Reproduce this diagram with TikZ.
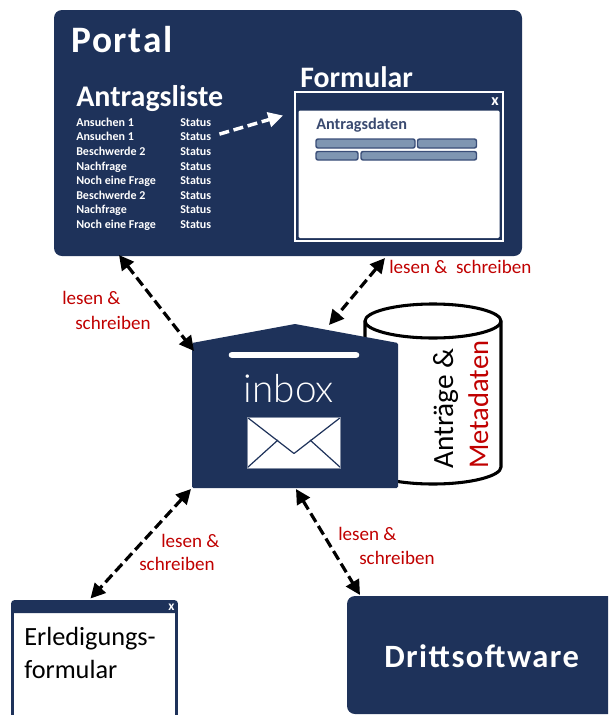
\documentclass[tikz,border=0pt]{standalone}
\usepackage{fontspec}
\setmainfont{Carlito}
\newfontfamily\inboxfont{Lato Light}
\newfontfamily\spacedfont[LetterSpace=4.5,BoldFont={Carlito Bold}]{Carlito Bold}
\usetikzlibrary{arrows.meta,fit,calc}
\definecolor{navy}{RGB}{30,50,90}
\definecolor{redtxt}{RGB}{192,0,0}
\definecolor{barfill}{RGB}{127,150,178}
\definecolor{barline}{RGB}{58,78,120}
\definecolor{formtxt}{RGB}{58,74,112}
\tikzset{
  x=0.75pt,y=-0.75pt,
  panel/.style={fit={#1},inner sep=0pt,outer sep=0pt,fill=navy,rounded corners=6pt},
  bound/.style={fit={#1},inner sep=0pt,outer sep=0pt},
  fbar/.style={fill=barfill,draw=barline,line width=1.1pt,rounded corners=1.6pt},
  dbl/.style={line width=2.4pt,dash pattern=on 7.5pt off 3.5pt,black,
     {Triangle[length=11pt,width=11pt]}-{Triangle[length=11pt,width=11pt]}},
  rlabel/.style={text=redtxt,font=\fontsize{14.3pt}{16pt}\selectfont,anchor=base west,inner sep=0pt},
  wlabel/.style={text=white,font=\fontsize{#1}{#1}\selectfont\bfseries,anchor=base west,inner sep=0pt},
  slabel/.style={text=white,font=\spacedfont\fontsize{#1}{#1}\selectfont,anchor=base west,inner sep=0pt},
  rowl/.style={text=white,font=\fontsize{9pt}{10pt}\selectfont\bfseries,anchor=base west,inner sep=0pt},
}
\begin{document}
\begin{tikzpicture}
\useasboundingbox (0,0) rectangle (608,715);
\clip (0,0) rectangle (608,715);
% Portal
\node[panel={(54,10)(522,256)}] (portal) {};
\node[slabel=28pt] (portaltxt) at (71,52) {Portal};
\node[wlabel=22.5pt] (listtitle) at (76,106) {Antragsliste};
\node[wlabel=22.3pt] (formtitle) at (300,87) {Formular};
\foreach \n/\yy/\t in {1/126/Ansuchen 1,2/140/Ansuchen 1,3/155/Beschwerde 2,4/170/Nachfrage,5/184/Noch eine Frage,6/199/Beschwerde 2,7/213/Nachfrage,8/228/Noch eine Frage}{
  \node[rowl] (row\n) at (76,\yy) {\t};
  \node[rowl] (status\n) at (180,\yy) {Status};
}
% Formular window
\node[bound={(295,92)(503,241)},draw=white,line width=1.4pt,fill=navy] (form) {};
\node[bound={(298.5,110.5)(499.5,238)},fill=white,rounded corners=1pt] (formbody) {};
\node[wlabel=12pt] (formx) at (491,105.5) {x};
\node[anchor=base west,inner sep=0pt,text=formtxt,font=\fontsize{12.2pt}{14pt}\selectfont\bfseries] (formdata) at (316,129) {Antragsdaten};
\node[fbar,bound={(316,139)(415,148)}] (b1) {};
\node[fbar,bound={(417.5,139)(476.5,148)}] (b2) {};
\node[fbar,bound={(316,151.5)(358,160)}] (b3) {};
\node[fbar,bound={(361,151.5)(476.5,160)}] (b4) {};
\coordinate (wa) at ($(status2.east)+(8,-2)$);
\coordinate (wb) at ($(form.west)+(-12,-51)$);
\draw[white,line width=2.6pt,dash pattern=on 7.5pt off 3.5pt,-{Triangle[length=11pt,width=11pt]}] (wa) -- (wb);
% Cylinder
\node[bound={(365,304)(501,484)}] (store) {};
\draw[black,line width=2.3pt,fill=white] (365,321) -- (365,467) .. controls (365,476) and (395,484) .. (433,484) .. controls (471,484) and (501,476) .. (501,467) -- (501,321) .. controls (501,312) and (471,304) .. (433,304) .. controls (395,304) and (365,312) .. (365,321) -- cycle;
\draw[black,line width=2.3pt] (365,321) .. controls (365,330) and (395,338) .. (433,338) .. controls (471,338) and (501,330) .. (501,321);
\node[rotate=90,anchor=base west,inner sep=0pt,font=\fontsize{22pt}{24pt}\selectfont] (s1) at (453,469) {Anträge \&};
\node[rotate=90,anchor=base west,inner sep=0pt,text=redtxt,font=\fontsize{21.4pt}{24pt}\selectfont] (s2) at (488,469) {Metadaten};
% Inbox
\node[bound={(192,324)(398,488)}] (mailbox) {};
\fill[navy,rounded corners=1pt] (192,343) -- (295,324) -- (398,343) -- (398,488) -- (192,488) -- cycle;
\draw[white,line width=5pt,line cap=round] (232,355) -- (356,355);
\node[inner sep=0pt,anchor=base,text=white,font=\inboxfont\fontsize{29pt}{30pt}\selectfont] (inboxtxt) at (289,402) {inbox};
\fill[white] (247.5,417) rectangle (340.5,468);
\draw[navy,line width=0.9pt,line join=round] (247.5,417.5) -- (294,453.5) -- (340.5,417.5);
\draw[navy,line width=0.9pt] (247.5,467.5) -- (278,440) (340.5,467.5) -- (310,440);
\draw[navy!55!white,line width=0.6pt] (247.5,417) rectangle (340.5,468);
% Erledigung
\node[bound={(12.5,601.5)(176.5,730)},draw=navy,line width=2pt,fill=white,rounded corners=1.5pt] (done) {};
\fill[navy,rounded corners=1.5pt] (12,601) rectangle (177,613);
\node[wlabel=10pt] (donex) at (168,610.5) {x};
\node[anchor=base west,inner sep=0pt,font=\fontsize{19.7pt}{21pt}\selectfont] (d1) at (24,645) {Erledigungs-};
\node[anchor=base west,inner sep=0pt,font=\fontsize{19.7pt}{21pt}\selectfont] (d2) at (24,678) {formular};
% Drittsoftware
\node[panel={(347,596)(620,714)}] (third) {};
\node[slabel=24.4pt] (thirdtxt) at (384,667) {Drit{}tsoftware};
% connectors
\coordinate (a1) at ($(portal.south west)+(65,-1)$);
\coordinate (a2) at ($(mailbox.north west)+(2,27)$);
\coordinate (b1e) at ($(portal.south east)+(-137,2)$);
\coordinate (b2e) at ($(mailbox.north)+(34,1)$);
\coordinate (c1) at ($(mailbox.south west)+(-1,1)$);
\coordinate (c2) at ($(done.north west)+(78,-3)$);
\coordinate (d1e) at ($(mailbox.south)+(1,1)$);
\coordinate (d2e) at ($(third.north west)+(13,-1)$);
\draw[dbl] (a1) -- (a2);
\draw[dbl] (b1e) -- (b2e);
\draw[dbl] (c1) -- (c2);
\draw[dbl] (d1e) -- (d2e);
% labels
\node[rlabel] (l1) at (62,304) {lesen \&};
\node[rlabel] (l2) at (75,329) {schreiben};
\node[rlabel] (l3) at (389,273) {lesen \&\ \ schreiben};
\node[rlabel] (l4) at (161,547) {lesen \&};
\node[rlabel] (l5) at (139,570) {schreiben};
\node[rlabel] (l6) at (338,540) {lesen \&};
\node[rlabel] (l7) at (359,564) {schreiben};
\end{tikzpicture}
\end{document}
